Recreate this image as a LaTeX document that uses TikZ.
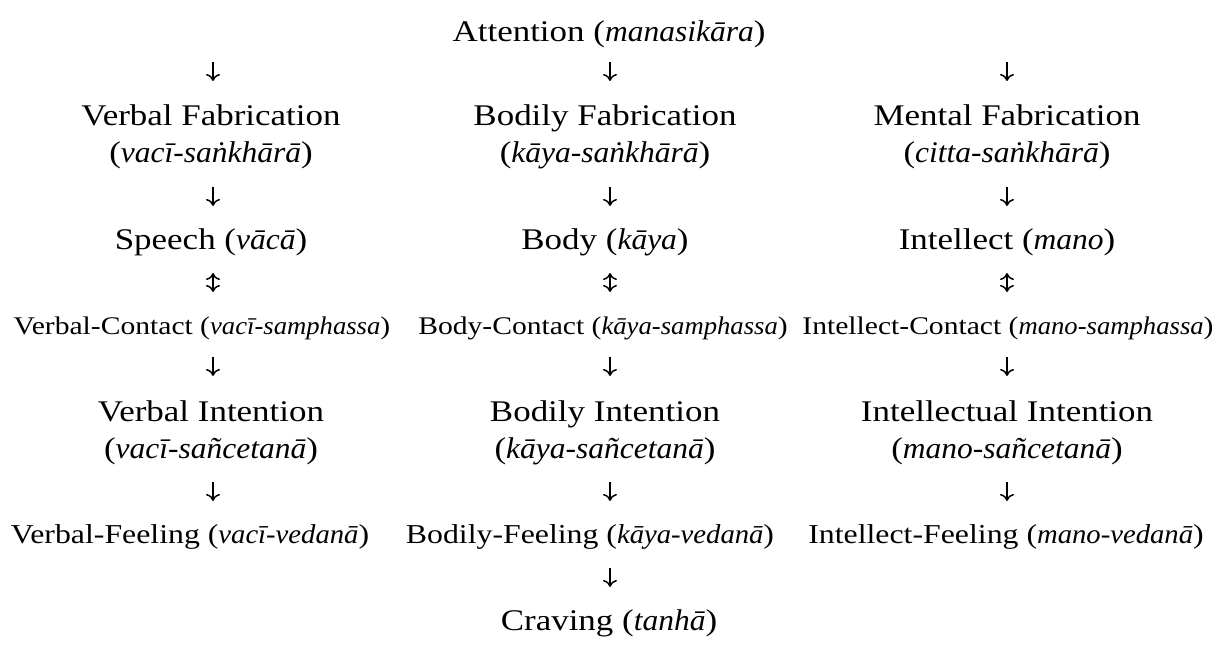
\documentclass[tikz,border=0pt]{standalone}
\usepackage{fontspec}
\setmainfont{Liberation Serif}[FakeStretch=1.165,ItalicFeatures={FakeStretch=1.05}]
\usetikzlibrary{arrows.meta,calc}
\tikzset{
  lbl/.style={inner sep=0pt, anchor=base, font=\fontsize{30}{36}\selectfont},
  sml/.style={inner sep=0pt, anchor=base, font=\fontsize{25.4}{30}\selectfont},
  fel/.style={inner sep=0pt, anchor=base, font=\fontsize{27.3}{32}\selectfont},
  tip/.tip={Computer Modern Rightarrow[length=7pt,width=14pt,line width=1.5pt]},
  arr/.style={line width=1.5pt, -tip},
  darr/.style={line width=1.5pt, tip-tip}
}
\begin{document}
\begin{tikzpicture}[x=1pt,y=-1pt]
\useasboundingbox (0,0) rectangle (1222,668);
\node[lbl] (attn) at (609,42) {Attention (\textit{manasikāra})};

\node[lbl] (vf) at (211,126) {Verbal Fabrication};
\node[lbl] (vfp) at (211,163) {(\textit{vacī-saṅkhārā})};
\node[lbl] (bf) at (605,126) {Bodily Fabrication};
\node[lbl] (bfp) at (605,163) {(\textit{kāya-saṅkhārā})};
\node[lbl] (mf) at (1007,126) {Mental Fabrication};
\node[lbl] (mfp) at (1007,163) {(\textit{citta-saṅkhārā})};

\node[lbl] (sp) at (211,250) {Speech (\textit{vācā})};
\node[lbl] (bo) at (605,250) {Body (\textit{kāya})};
\node[lbl] (in) at (1007,250) {Intellect (\textit{mano})};

\node[sml] (vc) at (202,334) {Verbal-Contact (\textit{vacī-samphassa})};
\node[sml] (bc) at (603,334) {Body-Contact (\textit{kāya-samphassa})};
\node[sml] (ic) at (1008,334) {Intellect-Contact (\textit{mano-samphassa})};

\node[lbl] (vi) at (211,421) {Verbal Intention};
\node[lbl] (vip) at (211,458) {(\textit{vacī-sañcetanā})};
\node[lbl] (bi) at (605,421) {Bodily Intention};
\node[lbl] (bip) at (605,458) {(\textit{kāya-sañcetanā})};
\node[lbl] (ii) at (1007,421) {Intellectual Intention};
\node[lbl] (iip) at (1007,458) {(\textit{mano-sañcetanā})};

\node[fel] (vfe) at (190,543) {Verbal-Feeling (\textit{vacī-vedanā})};
\node[fel] (bfe) at (590,543) {Bodily-Feeling (\textit{kāya-vedanā})};
\node[fel] (ife) at (1006,543) {Intellect-Feeling (\textit{mano-vedanā})};

\node[lbl] (cr) at (609,630) {Craving (\textit{tanhā})};

% attention to fabrications
\draw[arr] ($(attn.base -| vf.base)+(2,20)$) -- ($(vf.base)+(2,-45)$);
\draw[arr] ($(attn.base -| bf.base)+(5,20)$) -- ($(bf.base)+(5,-45)$);
\draw[arr] ($(attn.base -| mf.base)+(0,20)$) -- ($(mf.base)+(0,-45)$);
% fabrication to speech/body/intellect
\draw[arr] ($(vfp.base)+(2,24)$) -- ($(sp.base)+(2,-44)$);
\draw[arr] ($(bfp.base)+(5,24)$) -- ($(bo.base)+(5,-44)$);
\draw[arr] ($(mfp.base)+(0,24)$) -- ($(in.base)+(0,-44)$);
% organ <-> contact
\draw[darr] ($(sp.base)+(2,23)$) -- ($(vc.base -| sp.base)+(2,-42)$);
\draw[darr] ($(bo.base)+(5,23)$) -- ($(bc.base -| bo.base)+(5,-42)$);
\draw[darr] ($(in.base)+(0,23)$) -- ($(ic.base -| in.base)+(0,-42)$);
% contact to intention
\draw[arr] ($(vc.base -| vi.base)+(2,23)$) -- ($(vi.base)+(2,-45)$);
\draw[arr] ($(bc.base -| bi.base)+(5,23)$) -- ($(bi.base)+(5,-45)$);
\draw[arr] ($(ic.base -| ii.base)+(0,23)$) -- ($(ii.base)+(0,-45)$);
% intention to feeling
\draw[arr] ($(vip.base)+(2,24)$) -- ($(vfe.base -| vip.base)+(2,-42)$);
\draw[arr] ($(bip.base)+(5,24)$) -- ($(bfe.base -| bip.base)+(5,-42)$);
\draw[arr] ($(iip.base)+(0,24)$) -- ($(ife.base -| iip.base)+(0,-42)$);
% feeling to craving
\draw[arr] ($(bfe.base -| bip.base)+(5,25)$) -- ($(cr.base -| bip.base)+(5,-43)$);
\end{tikzpicture}
\end{document}
